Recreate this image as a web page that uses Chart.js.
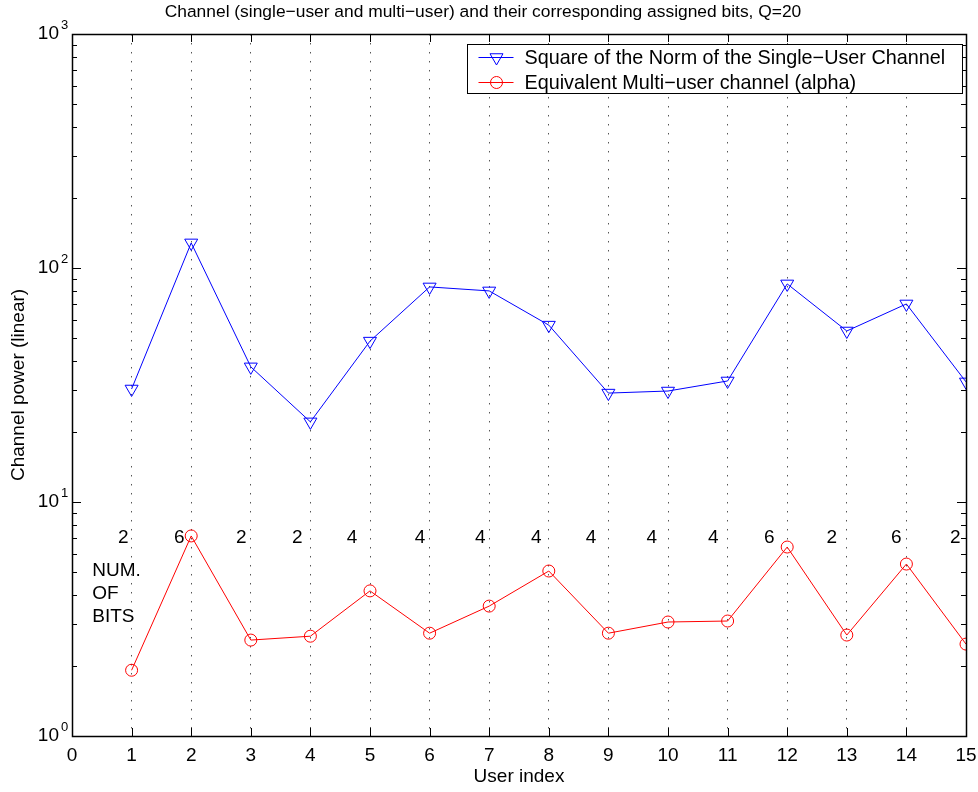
<!DOCTYPE html>
<html>
<head>
<meta charset="utf-8">
<script src="https://cdn.jsdelivr.net/npm/chart.js@4.4.0/dist/chart.umd.min.js"></script>
<style>
    html, body { margin: 0; padding: 0; background: #fff; }
    #wrap { width: 978px; height: 792px; }
</style>
</head>
<body>
<div id="wrap"><canvas id="chart" width="978" height="792"></canvas></div>
<script>
// values
const userIndex = [1, 2, 3, 4, 5, 6, 7, 8, 9, 10, 11, 12, 13, 14, 15];
const singleUserPower = [30.4, 128, 37.8, 22.0, 48.7, 83, 79.8, 57, 29.2, 29.8, 32.9, 85.5, 53.8, 70.2, 32.6];
const multiUserAlpha = [1.91, 7.16, 2.57, 2.67, 4.17, 2.75, 3.59, 5.07, 2.75, 3.07, 3.10, 6.42, 2.70, 5.43, 2.47];
const assignedBits = [2, 6, 2, 2, 4, 4, 4, 4, 4, 4, 4, 6, 2, 6, 2];
// where the bit numbers sit (user index units)
const bitsLabelX = [0.86, 1.8, 2.84, 3.78, 4.7, 5.84, 6.85, 7.79, 8.71, 9.73, 10.76, 11.7, 12.75, 13.83, 14.82];
const bitsLabelY = 7;
const xTicks = [0, 1, 2, 3, 4, 5, 6, 7, 8, 9, 10, 11, 12, 13, 14, 15];
const yTicks = [1, 10, 100, 1000];
const yTickExp = ['0', '1', '2', '3'];
const bitsNoteLines = ['NUM.', 'OF', 'BITS'];
const seriesNames = [
    'Square of the Norm of the Single\u2212User Channel',
    'Equivalent Multi\u2212user channel (alpha)'
];

const FONT = "'Liberation Sans', Helvetica, Arial, sans-serif";
Chart.defaults.font.family = FONT;
Chart.defaults.font.size = 19;
Chart.defaults.color = '#000';

function drawMarker(ctx, style, x, y, r, color) {
    ctx.save();
    ctx.strokeStyle = color;
    ctx.lineWidth = 1;
    ctx.beginPath();
    if (style === 'triangle') {
        ctx.moveTo(x - r * 0.866, y - r * 0.5);
        ctx.lineTo(x + r * 0.866, y - r * 0.5);
        ctx.lineTo(x, y + r);
        ctx.closePath();
    } else {
        ctx.arc(x, y, r, 0, Math.PI * 2);
    }
    ctx.stroke();
    ctx.restore();
}

const matlabAxes = {
    id: 'matlabAxes',
    afterDatasetsDraw(chart) {
        const { ctx, scales: { x, y } } = chart;
        ctx.save();
        ctx.fillStyle = '#000';
        ctx.font = '19px ' + FONT;
        ctx.textAlign = 'center';
        ctx.textBaseline = 'middle';
        assignedBits.forEach((b, i) => {
            ctx.fillText(String(b), x.getPixelForValue(bitsLabelX[i]), y.getPixelForValue(bitsLabelY));
        });
        ctx.textAlign = 'left';
        const y0 = y.getPixelForValue(5.1);
        bitsNoteLines.forEach((t, i) => ctx.fillText(t, x.getPixelForValue(0.34), y0 + i * 23));
        ctx.restore();
    },
    afterDraw(chart) {
        const { ctx, chartArea: ca, scales: { x, y } } = chart;
        ctx.save();
        // exponents of the y tick labels
        ctx.fillStyle = '#000';
        ctx.font = '13px ' + FONT;
        ctx.textAlign = 'left';
        ctx.textBaseline = 'middle';
        yTicks.forEach((d, k) => ctx.fillText(yTickExp[k], ca.left - 11, y.getPixelForValue(d) - 9));

        ctx.strokeStyle = '#000';
        ctx.lineWidth = 1;
        // inner ticks
        ctx.beginPath();
        xTicks.slice(1, -1).forEach(v => {
            const px = Math.round(x.getPixelForValue(v)) + 0.5;
            ctx.moveTo(px, ca.bottom); ctx.lineTo(px, ca.bottom - 8);
            ctx.moveTo(px, ca.top); ctx.lineTo(px, ca.top + 8);
        });
        yTicks.forEach((d, k) => {
            const py = Math.round(y.getPixelForValue(d)) + 0.5;
            ctx.moveTo(ca.left, py); ctx.lineTo(ca.left + 9, py);
            ctx.moveTo(ca.right, py); ctx.lineTo(ca.right - 9, py);
            if (k === yTicks.length - 1) return;
            for (let m = 2; m <= 9; m++) {
                const pm = Math.round(y.getPixelForValue(m * d)) + 0.5;
                ctx.moveTo(ca.left, pm); ctx.lineTo(ca.left + 5, pm);
                ctx.moveTo(ca.right, pm); ctx.lineTo(ca.right - 5, pm);
            }
        });
        ctx.stroke();
        // frame
        ctx.lineWidth = 1.5;
        ctx.strokeRect(Math.round(ca.left) + 0.5, Math.round(ca.top) + 0.5,
            Math.round(ca.right - ca.left), Math.round(ca.bottom - ca.top));

        // legend box
        ctx.font = '19.8px ' + FONT;
        const textW = Math.max(...seriesNames.map(s => ctx.measureText(s).width));
        const boxW = Math.round(57 + textW + 17);
        const boxH = 49;
        const lx = Math.round(ca.right - 4 - boxW) + 0.5;
        const ly = Math.round(ca.top + 10) + 0.5;
        ctx.fillStyle = '#fff';
        ctx.fillRect(lx, ly, boxW, boxH);
        ctx.lineWidth = 1;
        ctx.strokeRect(lx, ly, boxW, boxH);
        chart.data.datasets.forEach((d, i) => {
            const ry = ly + 13 + i * 25;
            ctx.strokeStyle = d.borderColor;
            ctx.beginPath();
            ctx.moveTo(lx + 11, ry); ctx.lineTo(lx + 46, ry);
            ctx.stroke();
            drawMarker(ctx, d.pointStyle, lx + 29, ry, d.pointRadius, d.borderColor);
            ctx.fillStyle = '#000';
            ctx.textAlign = 'left';
            ctx.textBaseline = 'middle';
            ctx.fillText(seriesNames[i], lx + 57, ry + 1);
        });
        ctx.restore();
    }
};

new Chart(document.getElementById('chart'), {
    type: 'line',
    data: {
        datasets: [
            {
                label: seriesNames[0],
                data: userIndex.map((u, i) => ({ x: u, y: singleUserPower[i] })),
                borderColor: '#0000ff',
                borderWidth: 1,
                pointStyle: 'triangle',
                pointRotation: 180,
                pointRadius: 7.5,
                pointBorderWidth: 1,
                pointBackgroundColor: 'rgba(0,0,0,0)',
                pointBorderColor: '#0000ff',
                tension: 0
            },
            {
                label: seriesNames[1],
                data: userIndex.map((u, i) => ({ x: u, y: multiUserAlpha[i] })),
                borderColor: '#ff0000',
                borderWidth: 1,
                pointStyle: 'circle',
                pointRadius: 6,
                pointBorderWidth: 1,
                pointBackgroundColor: 'rgba(0,0,0,0)',
                pointBorderColor: '#ff0000',
                tension: 0
            }
        ]
    },
    options: {
        responsive: false,
        animation: false,
        layout: { padding: { left: 0, right: 12, top: 0, bottom: 0 } },
        plugins: {
            legend: { display: false },
            tooltip: { enabled: false },
            title: {
                display: true,
                text: 'Channel (single\u2212user and multi\u2212user) and their corresponding assigned bits, Q=20',
                font: { size: 17.4, weight: 'normal' },
                color: '#000',
                padding: { top: 2, bottom: 11.1 }
            }
        },
        scales: {
            x: {
                type: 'linear',
                min: 0,
                max: 15,
                afterBuildTicks: s => { s.ticks = xTicks.map(v => ({ value: v })); },
                afterFit: s => { s.height = 56; s.paddingLeft = 0; s.paddingRight = 0; },
                ticks: { autoSkip: false, maxRotation: 0, padding: 8, color: '#000', font: { size: 19 } },
                grid: {
                    drawTicks: false,
                    lineWidth: 1,
                    color: c => (c.tick && (c.tick.value === 0 || c.tick.value === 15)) ? 'rgba(0,0,0,0)' : '#555'
                },
                border: { display: false, dash: [1.5, 7.5] },
                title: { display: true, text: 'User index', color: '#000', font: { size: 19 }, padding: { top: 0, bottom: 4 } }
            },
            y: {
                type: 'logarithmic',
                min: 1,
                max: 1000,
                afterBuildTicks: s => { s.ticks = yTicks.map(v => ({ value: v })); },
                afterFit: s => { s.width = 72; s.paddingTop = 0; s.paddingBottom = 0; },
                ticks: {
                    padding: 5,
                    color: '#000',
                    font: { size: 19 },
                    callback: () => '10'
                },
                grid: { display: false },
                border: { display: false },
                title: { display: true, text: 'Channel power (linear)', color: '#000', font: { size: 19 }, padding: { top: 7, bottom: 0 } }
            }
        }
    },
    plugins: [matlabAxes]
});
</script>
</body>
</html>
